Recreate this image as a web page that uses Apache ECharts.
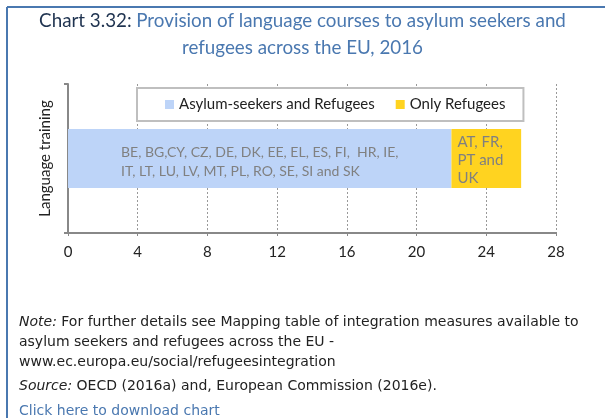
<!DOCTYPE html>
<html>
<head>
<meta charset="utf-8">
<script src="https://cdn.jsdelivr.net/npm/echarts@6/dist/echarts.min.js"></script>
<style>
  html, body { margin: 0; padding: 0; background: #fff; }
  #chart { width: 605px; height: 418px; }
</style>
</head>
<body>
<div id="chart"></div>
<script>
// data
var categories = ['Language training'];
var seriesNames = ['Asylum-seekers and Refugees', 'Only Refugees'];
var asylumAndRefugees = [22];
var onlyRefugees = [4];
var asylumCountries = ['BE, BG,CY, CZ, DE, DK, EE, EL, ES, FI,  HR, IE,\nIT, LT, LU, LV, MT, PL, RO, SE, SI and SK'];
var refugeeCountries = ['AT, FR,\nPT and\nUK'];
var xMin = 0, xMax = 28, xStep = 4;

var FONT = 'Lato, sans-serif';
var NOTE = '"DejaVu Sans", sans-serif';
var BLUE = '#4a78b0';

var chart = echarts.init(document.getElementById('chart'));

chart.setOption({
  backgroundColor: '#fff',
  animation: false,
  textStyle: { fontFamily: FONT },
  title: {
    left: 'center',
    top: 2,
    text: '{a|Chart 3.32:} {b|Provision of language courses to asylum seekers and}\n{b|refugees across the EU, 2016}',
    textStyle: {
      fontFamily: FONT,
      fontWeight: 'normal',
      rich: {
        a: { fontFamily: FONT, fontWeight: 'normal', fontSize: 18.8, color: '#1f3350', lineHeight: 27 },
        b: { fontFamily: FONT, fontWeight: 'normal', fontSize: 18.8, color: BLUE, lineHeight: 27 }
      }
    }
  },
  legend: {
    left: 137,
    top: 88,
    data: seriesNames,
    icon: 'rect',
    itemWidth: 9,
    itemHeight: 9,
    itemGap: 21,
    padding: [9, 18, 9, 28],
    backgroundColor: '#fff',
    borderColor: '#bfbfbf',
    borderWidth: 2,
    textStyle: { fontFamily: FONT, fontSize: 15, color: '#222' }
  },
  grid: { left: 68, right: 49, top: 84, bottom: 185 },
  xAxis: {
    type: 'value',
    min: xMin,
    max: xMax,
    interval: xStep,
    axisLine: { show: true, lineStyle: { color: '#888', width: 2 } },
    axisTick: { show: true, length: 3, lineStyle: { color: '#888' } },
    axisLabel: { fontFamily: FONT, fontSize: 15, color: '#222', margin: 12 },
    splitLine: { show: true, lineStyle: { color: '#999', type: [2, 2], width: 1 } }
  },
  yAxis: {
    type: 'category',
    data: categories,
    name: categories[0],
    nameLocation: 'middle',
    nameRotate: 90,
    nameGap: 15,
    nameTextStyle: { fontFamily: FONT, fontSize: 15, color: '#222' },
    axisLine: { show: true, lineStyle: { color: '#888', width: 2 } },
    axisTick: { show: true, length: 4, lineStyle: { color: '#888', width: 2 } },
    axisLabel: { show: false },
    splitLine: { show: false }
  },
  series: [
    {
      name: seriesNames[0],
      type: 'bar',
      stack: 'total',
      barWidth: 59,
      data: asylumAndRefugees,
      itemStyle: { color: '#bdd4f8' },
      label: {
        show: true,
        position: [53, 33],
        verticalAlign: 'middle',
        align: 'left',
        formatter: function () { return asylumCountries[0]; },
        fontFamily: FONT,
        fontSize: 14,
        lineHeight: 19,
        color: '#808080'
      }
    },
    {
      name: seriesNames[1],
      type: 'bar',
      stack: 'total',
      barWidth: 59,
      data: onlyRefugees,
      itemStyle: { color: '#ffd320' },
      label: {
        show: true,
        position: [6, 31],
        verticalAlign: 'middle',
        align: 'left',
        formatter: function () { return refugeeCountries[0]; },
        fontFamily: FONT,
        fontSize: 15,
        lineHeight: 18,
        color: '#808080'
      }
    }
  ],
  graphic: [
    { type: 'line', shape: { x1: 7, y1: 7, x2: 605, y2: 7 }, style: { stroke: BLUE, lineWidth: 2 } },
    { type: 'line', shape: { x1: 7, y1: 7, x2: 7, y2: 418 }, style: { stroke: BLUE, lineWidth: 2 } },
    {
      type: 'text', left: 19, top: 312,
      style: {
        text: '{i|Note:} For further details see Mapping table of integration measures available to\nasylum seekers and refugees across the EU -\nwww.ec.europa.eu/social/refugeesintegration',
        fontFamily: NOTE, fontSize: 14, lineHeight: 20, fill: '#222',
        rich: { i: { fontStyle: 'italic', fontFamily: NOTE, fontSize: 14, lineHeight: 20, fill: '#222' } }
      }
    },
    {
      type: 'text', left: 19, top: 376,
      style: {
        text: '{i|Source:} OECD (2016a) and, European Commission (2016e).',
        fontFamily: NOTE, fontSize: 14, lineHeight: 20, fill: '#222',
        rich: { i: { fontStyle: 'italic', fontFamily: NOTE, fontSize: 14, lineHeight: 20, fill: '#222' } }
      }
    },
    {
      type: 'text', left: 19, top: 401,
      style: { text: 'Click here to download chart', fontFamily: NOTE, fontSize: 14, lineHeight: 20, fill: BLUE }
    }
  ]
});
</script>
</body>
</html>
